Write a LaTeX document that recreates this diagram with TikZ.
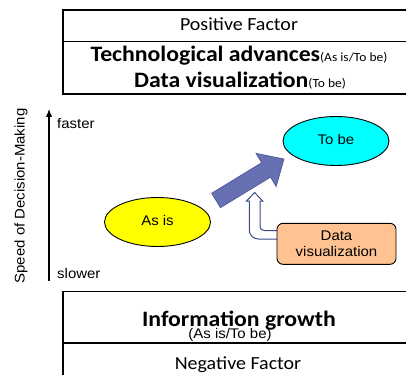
\documentclass[tikz,border=0pt]{standalone}
\usepackage{fontspec}
\setmainfont[FakeStretch=1.08]{Carlito}
\newfontfamily\arialfont[FakeStretch=1.07]{Liberation Sans}
\usetikzlibrary{shapes.geometric,arrows.meta}
\definecolor{arrowblue}{RGB}{102,112,178}
\definecolor{arrowedge}{RGB}{74,84,148}
\definecolor{hollowedge}{RGB}{60,74,140}
\definecolor{peach}{RGB}{255,194,145}
\definecolor{asisfill}{RGB}{255,255,0}
\definecolor{tobefill}{RGB}{0,255,255}
\tikzset{
  factorbox/.style={draw=black, line width=1.3pt},
  statenode/.style={ellipse, draw=black, line width=0.9pt, font=\arialfont\fontsize{14}{16}\selectfont,
    minimum width=106pt, minimum height=49pt, inner sep=0pt, text depth=4pt},
  boxtext/.style={inner sep=0pt, anchor=base},
  axislabel/.style={inner sep=0pt, font=\arialfont\fontsize{14}{16}\selectfont},
  enabler/.style={draw=black, line width=0.9pt, rounded corners=6pt, fill=peach, align=center,
    font=\arialfont\fontsize{14}{16.5}\selectfont, minimum width=119pt, minimum height=41pt, inner sep=0pt},
}
\begin{document}
\begin{tikzpicture}[x=1pt,y=-1pt]
\useasboundingbox (0,0) rectangle (406,374);
\clip (0,0) rectangle (406,374);

% upper factor table
\draw[factorbox] (63,10) rectangle (430,94);
\draw[factorbox] (63,41.7) -- (430,41.7);
\node[boxtext, font=\fontsize{18.5}{20}\selectfont] (pos) at (239,31) {Positive Factor};
\node[boxtext] (tech) at (239,62) {\fontsize{22}{24}\selectfont\bfseries Technological advances\fontsize{12.5}{14}\selectfont\mdseries(As is/To be)};
\node[boxtext] (dviz) at (240,88) {\fontsize{22}{24}\selectfont\bfseries Data visualization\fontsize{12.5}{14}\selectfont\mdseries(To be)};

% lower factor table
\draw[factorbox] (63,291.7) rectangle (430,390);
\draw[factorbox] (63,343) -- (430,343);
\node[boxtext, font=\fontsize{22}{24}\selectfont\bfseries] (info) at (239,326.5) {Information growth};
\node[boxtext, font=\arialfont\fontsize{14}{16}\selectfont] (infonote) at (230,338.5) {(As is/To be)};
\node[boxtext, font=\fontsize{18.5}{20}\selectfont] (neg) at (238,369) {Negative Factor};

% speed axis
\coordinate (axislow) at (49,281);
\coordinate (axishigh) at (49,109);
\draw[line width=1.3pt, -{Latex[length=8pt,width=6.5pt]}] (axislow) -- (axishigh);
\node[axislabel, anchor=base west] (fast) at (57,129) {faster};
\node[axislabel, anchor=base west] (slow) at (57,278) {slower};
\node[axislabel, rotate=90] (speed) at (21,196) {Speed of Decision-Making};

% states
\node[statenode, fill=asisfill] (asis) at (157.5,222) {As is};
\node[statenode, fill=tobefill] (tobe) at (336,141) {To be};

% block arrow from As is towards To be
\filldraw[fill=arrowblue, draw=arrowedge, line width=0.6pt, line join=miter]
  (211.6,193.25) -- (261.6,162.7) -- (255.9,153.3) -- (284,159)
  -- (276.2,186.6) -- (270.5,177.2) -- (220.4,207.75) -- cycle;

% hollow bent arrow from the enabler box
\filldraw[fill=white, draw=hollowedge, line width=1pt, line join=miter]
  (285,239) [rounded corners=9pt]-- (249.3,239) [sharp corners]-- (249.3,201)
  -- (246.5,201) -- (254.6,192.5) -- (262.7,201) -- (260,201)
  [rounded corners=4pt]-- (260,230.5) [sharp corners]-- (285,230.5) -- cycle;

\node[enabler] (enable) at (336.5,243.8) {Data\\visualization};
\end{tikzpicture}
\end{document}
